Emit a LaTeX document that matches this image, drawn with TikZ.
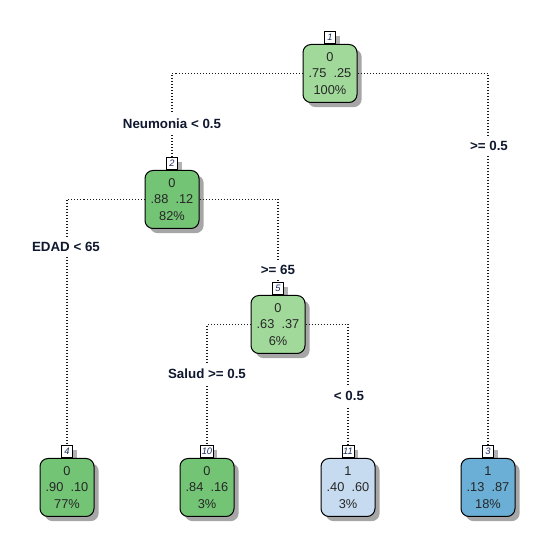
\documentclass[tikz,border=0pt]{standalone}
\usepackage{fontspec}
\setmainfont{Liberation Sans}
\usetikzlibrary{shadows}
\definecolor{gLight}{HTML}{A1D99B}
\definecolor{gDark}{HTML}{74C476}
\definecolor{bLight}{HTML}{C6DBEF}
\definecolor{bDark}{HTML}{6BAED6}
\definecolor{labcol}{HTML}{101830}
\definecolor{numcol}{HTML}{1A2A60}
\begin{document}
\begin{tikzpicture}[x=0.75pt,y=-0.75pt,
  tnode/.style={draw=black, line width=0.75pt, rounded corners=6pt,
    minimum width=40.5pt, minimum height=43.5pt, inner sep=0pt, align=center,
    font=\fontsize{9.6}{12.4}\selectfont, text=black!85, anchor=north,
    drop shadow={shadow xshift=3.5pt, shadow yshift=-3.5pt, opacity=0.35, fill=black}},
  numbox/.style={draw=black, fill=white, line width=0.5pt, minimum width=8.25pt,
    minimum height=9pt, inner sep=0.8pt, font=\fontsize{7}{7}\selectfont\itshape,
    text=numcol, anchor=south,
    drop shadow={shadow xshift=3pt, shadow yshift=-3pt, opacity=0.3, fill=black}},
  split/.style={font=\fontsize{10}{11}\selectfont\bfseries, text=labcol, fill=white, inner sep=4pt},
  conn/.style={line width=0.8pt, dash pattern=on 0.75pt off 1.5pt, draw=black!90}
]
\useasboundingbox[fill=white] (0,0) rectangle (544,541);

% number boxes
\node[numbox] (n1num) at (330,44) {1};
\node[numbox] (n2num) at (172,170) {2};
\node[numbox] (n5num) at (278,295) {5};
\node[numbox] (n4num) at (67,458) {4};
\node[numbox] (n10num) at (207,458) {10};
\node[numbox] (n11num) at (348,458) {11};
\node[numbox] (n3num) at (488,458) {3};

% tree nodes
\node[tnode, fill=gLight] (n1) at (330,44) {0\\.75~~.25\\100\%};
\node[tnode, fill=gDark] (n2) at (172,170) {0\\.88~~.12\\82\%};
\node[tnode, fill=gLight] (n5) at (278,295) {0\\.63~~.37\\6\%};
\node[tnode, fill=gDark] (n4) at (67,458) {0\\.90~~.10\\77\%};
\node[tnode, fill=gDark] (n10) at (207,458) {0\\.84~~.16\\3\%};
\node[tnode, fill=bLight] (n11) at (348,458) {1\\.40~~.60\\3\%};
\node[tnode, fill=bDark] (n3) at (488,458) {1\\.13~~.87\\18\%};

% connectors
\draw[conn] (n1.west) -| (n2num.north);
\draw[conn] (n1.east) -| (n3num.north);
\draw[conn] (n2.west) -| (n4num.north);
\draw[conn] (n2.east) -| (n5num.north);
\draw[conn] (n5.west) -| (n10num.north);
\draw[conn] (n5.east) -| (n11num.north);

% split labels
\node[split] (l12) at (172,124) {Neumonia < 0.5};
\node[split] (l13) at (489,146) {>= 0.5};
\node[split] (l24) at (66,247) {EDAD < 65};
\node[split] (l25) at (278,270) {>= 65};
\node[split] (l510) at (207,374) {Salud >= 0.5};
\node[split] (l511) at (349,396) {< 0.5};
\end{tikzpicture}
\end{document}
